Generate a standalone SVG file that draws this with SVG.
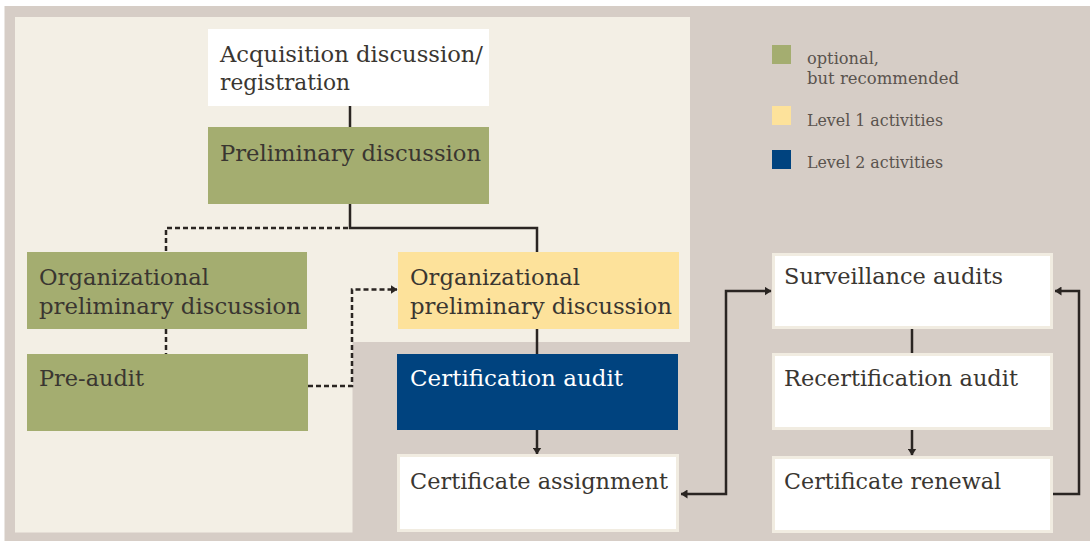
<svg xmlns="http://www.w3.org/2000/svg" width="1090" height="541" viewBox="0 0 1090 541">
<defs>
<style>
.t{font-family:"DejaVu Serif","Liberation Serif",serif;font-size:23px;fill:#3a3631;font-weight:normal}
.tw{fill:#ffffff}
.lg{font-family:"DejaVu Serif","Liberation Serif",serif;font-size:16px;fill:#5a534e}
.green{fill:#a4ad70}
.yellow{fill:#fde29b}
.blue{fill:#00437f}
.white{fill:#ffffff}
.wb{fill:#ffffff;stroke:#f1ece1;stroke-width:3}
.ln{fill:none;stroke:#2a2522;stroke-width:2.5}
.dl{fill:none;stroke:#2a2522;stroke-width:2.5;stroke-dasharray:5 3}
</style>
<marker id="ah" viewBox="0 0 7 9" refX="6.5" refY="4.5" markerWidth="7" markerHeight="9" markerUnits="userSpaceOnUse" orient="auto-start-reverse">
<path d="M0,0 L7,4.5 L0,9 z" fill="#2a2522"/>
</marker>
</defs>
<rect x="0" y="0" width="1090" height="541" fill="#ffffff"/>
<rect x="4.5" y="6" width="1086" height="535" fill="#d6cdc6"/>
<path d="M15,17 H690 V342 H352.5 V532.5 H15 Z" fill="#f3efe5"/>

<g id="connectors">
<path class="ln" d="M350,105 V127"/>
<path class="ln" d="M350,203 V228 H537 V252"/>
<path class="dl" d="M348,228 H166 V252"/>
<path class="dl" d="M166,329 V354"/>
<path class="dl" d="M308,386 H352 V289.5 H397" marker-end="url(#ah)"/>
<path class="ln" d="M537,329 V354"/>
<path class="ln" d="M537,430 V454" marker-end="url(#ah)"/>
<path class="ln" d="M681,494 H726 V291 H771" marker-start="url(#ah)" marker-end="url(#ah)"/>
<path class="ln" d="M912,329 V353"/>
<path class="ln" d="M912,430 V455" marker-end="url(#ah)"/>
<path class="ln" d="M1053,494 H1079 V291 H1055" marker-end="url(#ah)"/>
</g>

<g id="node-acquisition">
<rect class="white" x="208" y="29" width="281" height="77"/>
<text class="t" x="220" y="62" textLength="263" lengthAdjust="spacingAndGlyphs">Acquisition discussion/</text>
<text class="t" x="220" y="90" textLength="130" lengthAdjust="spacingAndGlyphs">registration</text>
</g>
<g id="node-preliminary">
<rect class="green" x="208" y="127" width="281" height="77"/>
<text class="t" x="220" y="161" textLength="261" lengthAdjust="spacingAndGlyphs">Preliminary discussion</text>
</g>
<g id="node-org-optional">
<rect class="green" x="27" y="252" width="280" height="77"/>
<text class="t" x="39" y="285" textLength="170" lengthAdjust="spacingAndGlyphs">Organizational</text>
<text class="t" x="39" y="314" textLength="262" lengthAdjust="spacingAndGlyphs">preliminary discussion</text>
</g>
<g id="node-preaudit">
<rect class="green" x="27" y="354" width="281" height="77"/>
<text class="t" x="39" y="386" textLength="105" lengthAdjust="spacingAndGlyphs">Pre-audit</text>
</g>
<g id="node-org-level1">
<rect class="yellow" x="398" y="252" width="281" height="77"/>
<text class="t" x="410" y="285" textLength="170" lengthAdjust="spacingAndGlyphs">Organizational</text>
<text class="t" x="410" y="314" textLength="262" lengthAdjust="spacingAndGlyphs">preliminary discussion</text>
</g>
<g id="node-certification-audit">
<rect class="blue" x="397" y="354" width="281" height="76"/>
<text class="t tw" x="410" y="386" textLength="213" lengthAdjust="spacingAndGlyphs">Certification audit</text>
</g>
<g id="node-certificate-assignment">
<rect class="wb" x="398.5" y="455.5" width="279" height="75"/>
<text class="t" x="410" y="489" textLength="258" lengthAdjust="spacingAndGlyphs">Certificate assignment</text>
</g>
<g id="node-surveillance">
<rect class="wb" x="773.5" y="254.5" width="278" height="73"/>
<text class="t" x="784" y="284" textLength="219" lengthAdjust="spacingAndGlyphs">Surveillance audits</text>
</g>
<g id="node-recertification">
<rect class="wb" x="773.5" y="354.5" width="278" height="74"/>
<text class="t" x="784" y="386" textLength="234" lengthAdjust="spacingAndGlyphs">Recertification audit</text>
</g>
<g id="node-renewal">
<rect class="wb" x="773.5" y="457.5" width="278" height="74"/>
<text class="t" x="784" y="489" textLength="217" lengthAdjust="spacingAndGlyphs">Certificate renewal</text>
</g>

<g id="legend">
<rect class="green" x="772" y="45" width="19" height="19"/>
<text class="lg" x="807" y="64" textLength="72" lengthAdjust="spacingAndGlyphs">optional,</text>
<text class="lg" x="807" y="84" textLength="152" lengthAdjust="spacingAndGlyphs">but recommended</text>
<rect class="yellow" x="772" y="106" width="19" height="19"/>
<text class="lg" x="807" y="126" textLength="136" lengthAdjust="spacingAndGlyphs">Level 1 activities</text>
<rect class="blue" x="772" y="150" width="19" height="19"/>
<text class="lg" x="807" y="168" textLength="136" lengthAdjust="spacingAndGlyphs">Level 2 activities</text>
</g>
</svg>
